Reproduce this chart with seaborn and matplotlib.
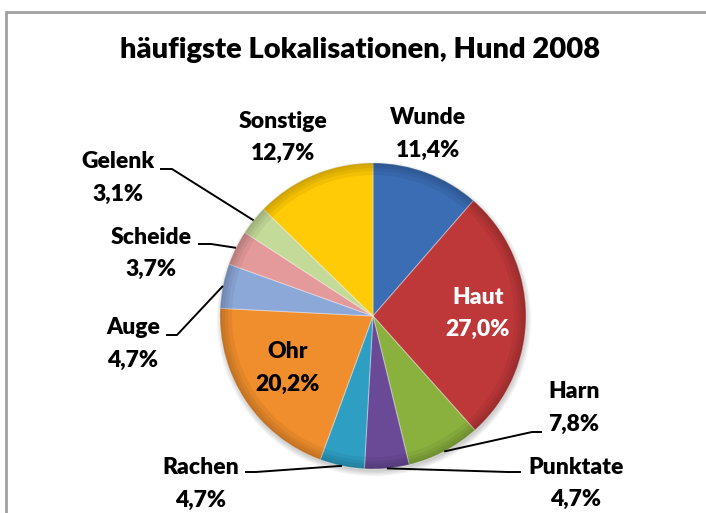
import numpy as np
import matplotlib
matplotlib.use('Agg')
import matplotlib.pyplot as plt
from matplotlib.patches import Wedge, Circle, Rectangle
import seaborn as sns

# --- data ---
title = 'häufigste Lokalisationen, Hund 2008'
categories = ['Wunde', 'Haut', 'Harn', 'Punktate', 'Rachen',
              'Ohr', 'Auge', 'Scheide', 'Gelenk', 'Sonstige']
shares = [11.4, 27.0, 7.8, 4.7, 4.7, 20.2, 4.7, 3.7, 3.1, 12.7]
colors = ['#3A6DB4', '#BF3839', '#8AB13E', '#6A4A97', '#2E9FC3',
          '#F08E2D', '#8CA8D9', '#E49A9A', '#C4DA98', '#FFCA06']

# --- layout (pixel coords, y from top) ---
W, H = 706, 513
cx, cy, R = 373, 316, 153
# centre of the name line, percent line is 32 px below
label_xy = {
    'Wunde': (428, 118), 'Haut': (478, 297), 'Harn': (574, 392),
    'Punktate': (576, 467), 'Rachen': (201, 468), 'Ohr': (288, 352),
    'Auge': (133, 328), 'Scheide': (151, 237), 'Gelenk': (118, 162),
    'Sonstige': (283, 121),
}
# leader lines: (x at text, x at elbow, y)
leaders = {
    'Harn': (542, 532, 432), 'Punktate': (521, 508, 472),
    'Rachen': (245, 256, 472), 'Auge': (166, 177, 335),
    'Scheide': (198, 211, 244), 'Gelenk': (160, 172, 169),
}


def fy(y):
    return H - y


sns.set_theme(style='white')
plt.rcParams['font.family'] = ['Lato', 'DejaVu Sans']

fig = plt.figure(figsize=(W / 100, H / 100), dpi=100)
ax = fig.add_axes([0, 0, 1, 1])

# soft shadow under the pie
for i, a in enumerate([0.05, 0.05, 0.05, 0.05]):
    ax.add_patch(Circle((cx + 1, fy(cy) - 3), R + 4 - i * 1.5,
                        color='black', alpha=a, lw=0, zorder=1))

wedges, _ = ax.pie(shares, colors=colors, startangle=90, counterclock=False,
                   center=(cx, fy(cy)), radius=R,
                   wedgeprops=dict(edgecolor=(1, 1, 1, 0.35), linewidth=0.8,
                                   zorder=2))

# bevel-ish darker rim
for w in [12, 8, 5, 2]:
    ax.add_patch(Wedge((cx, fy(cy)), R, 0, 360, width=w,
                       color='black', alpha=0.05, lw=0, zorder=3))

ax.set_xlim(0, W)
ax.set_ylim(0, H)
ax.set_aspect('equal')
ax.axis('off')

fs = 16.5
wt = 'heavy'
for wdg, name, val in zip(wedges, categories, shares):
    x, y = label_xy[name]
    col = 'white' if name == 'Haut' else 'black'
    pct = f'{val:.1f}'.replace('.', ',') + '%'
    ax.text(x, fy(y), name, ha='center', va='center', fontsize=fs,
            fontweight=wt, color=col, zorder=5)
    ax.text(x, fy(y + 32), pct, ha='center', va='center', fontsize=fs,
            fontweight=wt, color=col, zorder=5)
    if name in leaders:
        x0, x1, ly = leaders[name]
        mid = np.deg2rad((wdg.theta1 + wdg.theta2) / 2)
        ex, ey = cx + R * np.cos(mid), fy(cy) + R * np.sin(mid)
        ax.plot([x0, x1, ex], [fy(ly), fy(ly), ey], color='black', lw=1.4,
                zorder=4, solid_capstyle='butt')

ax.text(360, fy(50), title, ha='center', va='center', fontsize=21,
        fontweight=wt, color='black')

# chart frame
ax.add_patch(Rectangle((6, -10), W + 10, fy(12) + 10, fill=False,
                       edgecolor='#A0A0A0', lw=2, zorder=0))

fig.savefig('out.png', dpi=100)
